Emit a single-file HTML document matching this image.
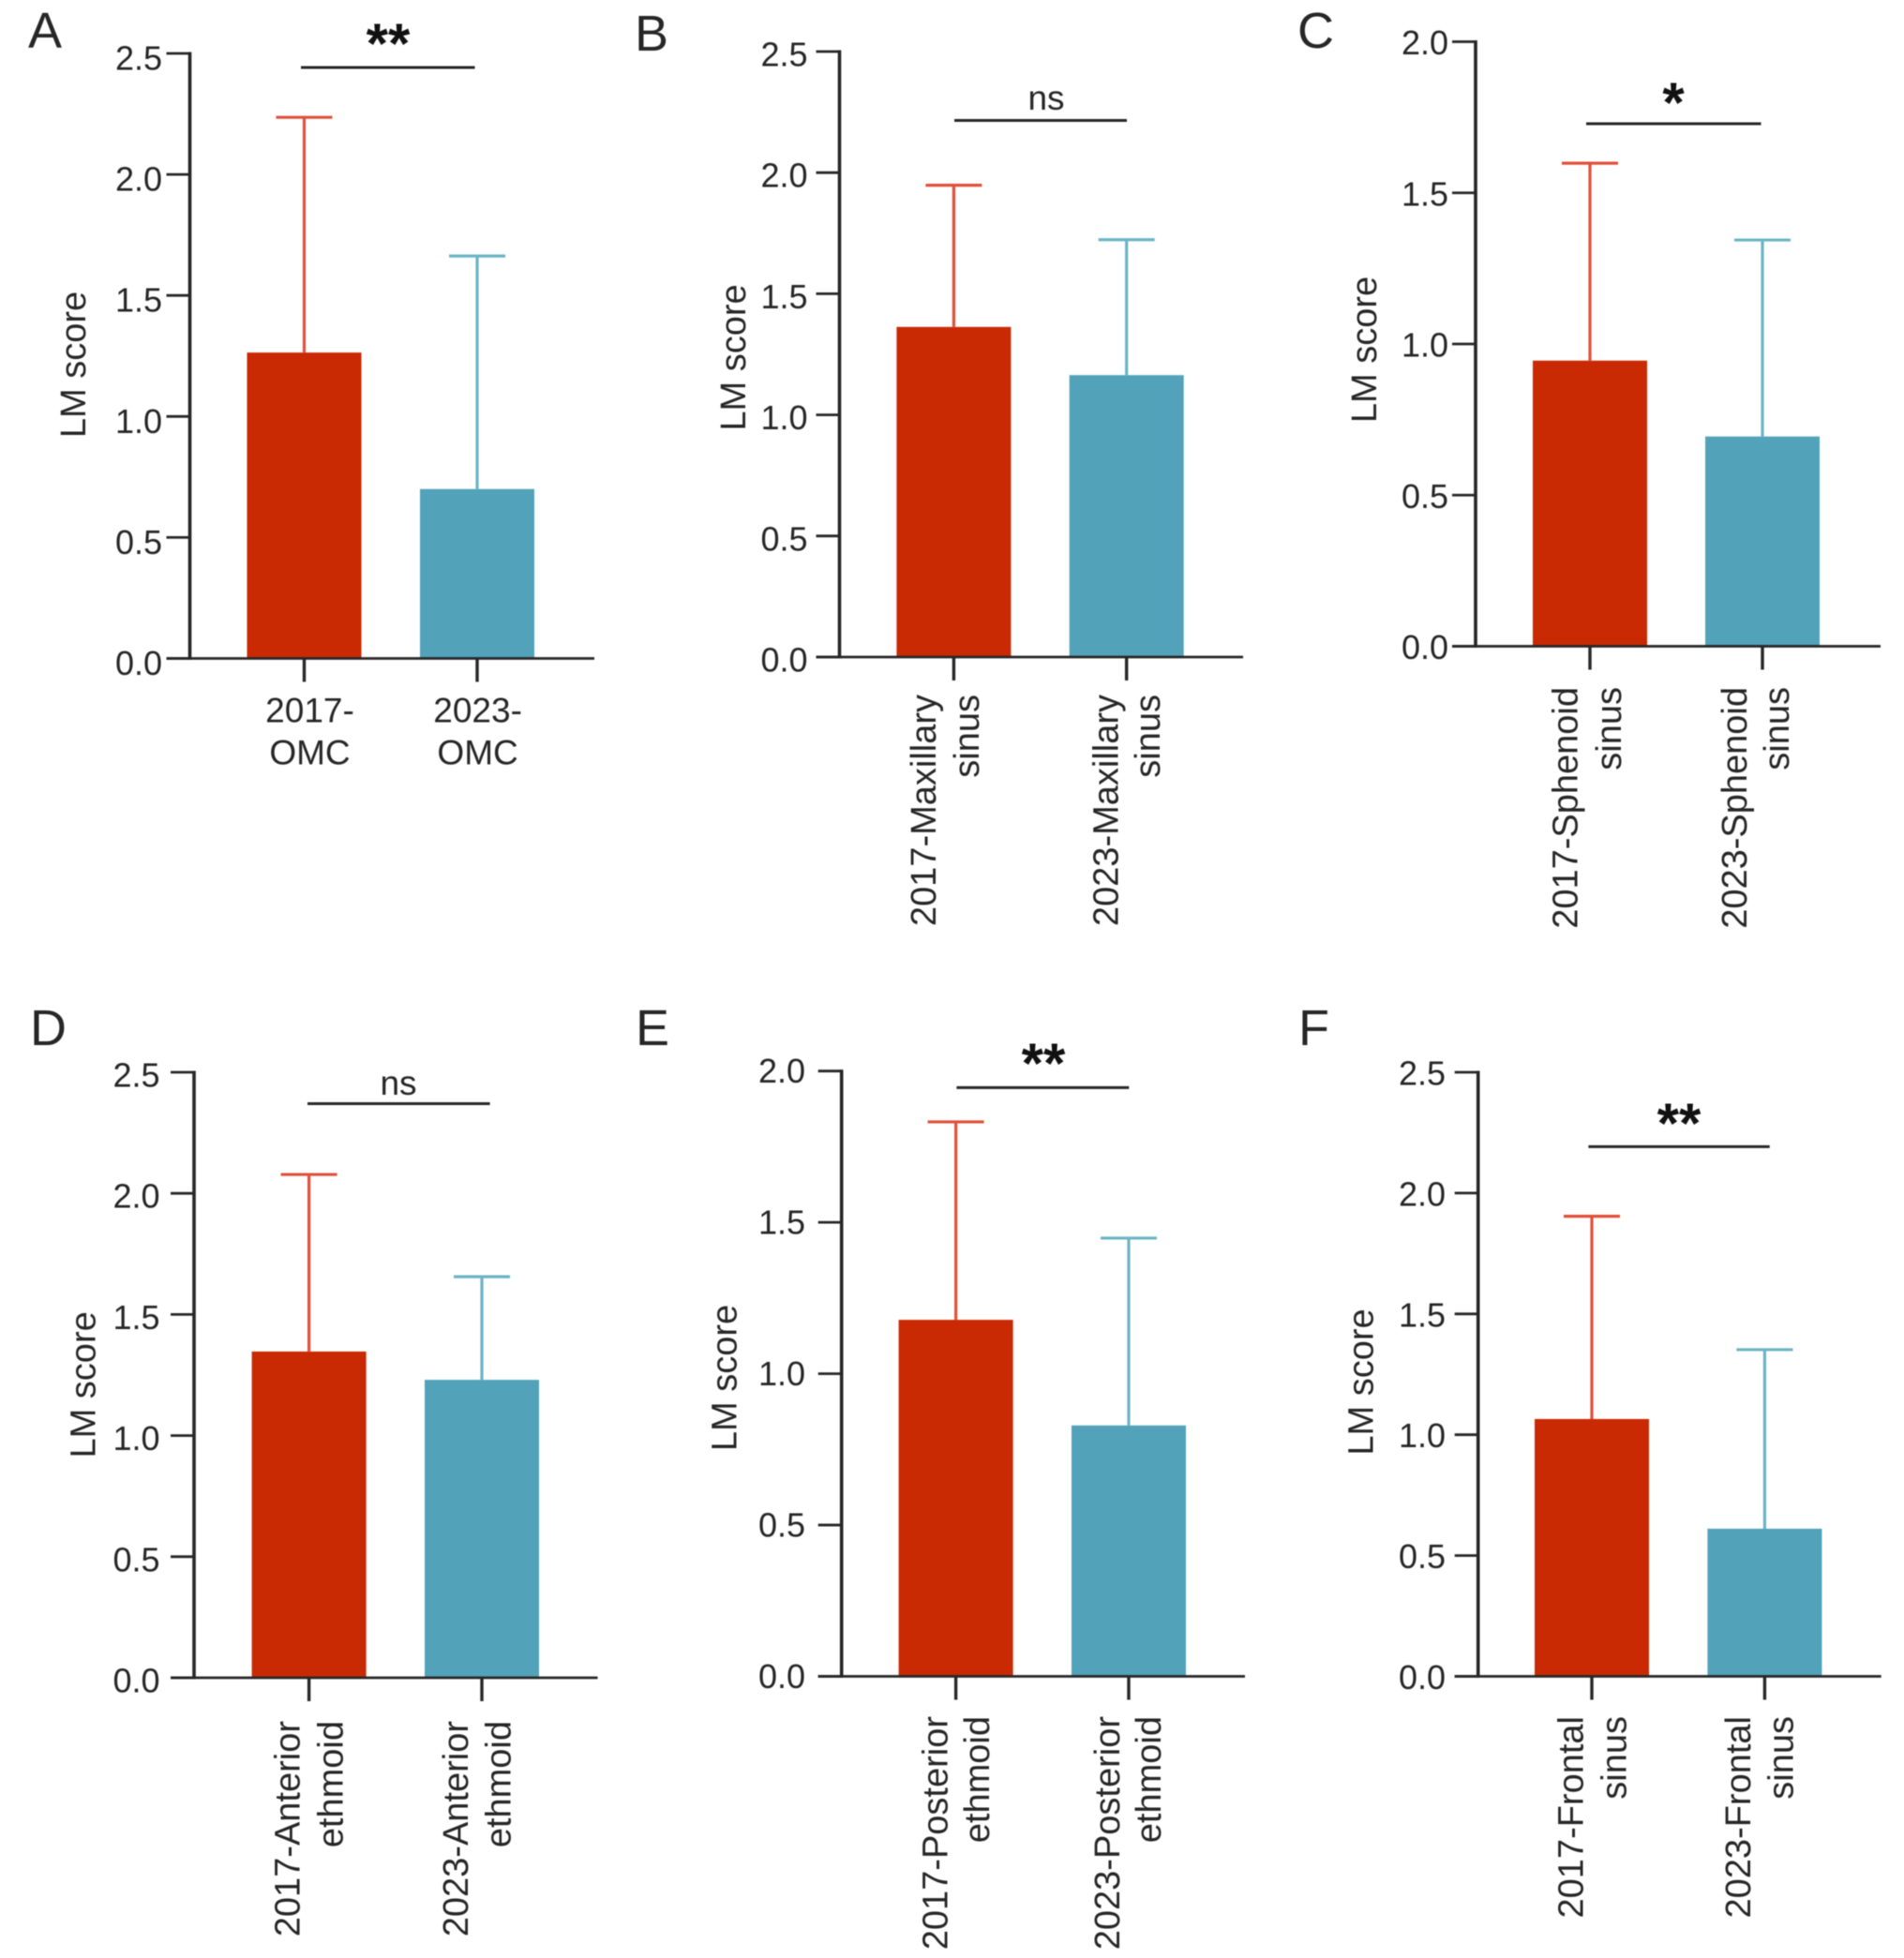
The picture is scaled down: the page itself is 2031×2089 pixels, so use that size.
<!DOCTYPE html>
<html lang="en">
<head>
<meta charset="utf-8">
<title>LM score bar charts</title>
<style>
html,body{margin:0;padding:0;background:#fff;}
svg{display:block;filter:blur(0.6px);}
text{font-family:"Liberation Sans",Arial,sans-serif;fill:#262626;}
</style>
</head>
<body>
<svg id="chart" xmlns="http://www.w3.org/2000/svg" width="2031" height="2089" viewBox="0 0 2031 2089"></svg>
<script>
// ---- Data ----
const ticks25 = [0, 0.5, 1, 1.5, 2, 2.5];
const ticks20 = [0, 0.5, 1, 1.5, 2];
const tickLabels25 = ['0.0', '0.5', '1.0', '1.5', '2.0', '2.5'];
const tickLabels20 = ['0.0', '0.5', '1.0', '1.5', '2.0'];
const axisTitle = 'LM score';

const categoriesA = [['2017-', 'OMC'], ['2023-', 'OMC']];
const meansA = [1.264, 0.70];
const upperA = [2.236, 1.663];
const sigA = '**';

const categoriesB = [['2017-Maxillary', 'sinus'], ['2023-Maxillary', 'sinus']];
const meansB = [1.363, 1.164];
const upperB = [1.948, 1.723];
const sigB = 'ns';

const categoriesC = [['2017-Sphenoid', 'sinus'], ['2023-Sphenoid', 'sinus']];
const meansC = [0.945, 0.694];
const upperC = [1.598, 1.344];
const sigC = '*';

const categoriesD = [['2017-Anterior', 'ethmoid'], ['2023-Anterior', 'ethmoid']];
const meansD = [1.347, 1.23];
const upperD = [2.078, 1.656];
const sigD = 'ns';

const categoriesE = [['2017-Posterior', 'ethmoid'], ['2023-Posterior', 'ethmoid']];
const meansE = [1.178, 0.829];
const upperE = [1.832, 1.448];
const sigE = '**';

const categoriesF = [['2017-Frontal', 'sinus'], ['2023-Frontal', 'sinus']];
const meansF = [1.065, 0.611];
const upperF = [1.904, 1.352];
const sigF = '**';

// ---- Layout (pixel geometry of each panel, separate from data) ----
const BAR_W = 122, CAP_W = 60, TICK_LEN = 25;
const FILL = ['#c92a03', '#52a2ba'];
const ERR = ['#e0503a', '#6cb4c4'];
const INK = '#262626';

const panels = [
  {id:'A', letterX:30, letterY:51, ticks:ticks25, labels:tickLabels25, cats:categoriesA, means:meansA, upper:upperA, sig:sigA,
   axisX:202.5, yTop:57, yBase:702.5, xEnd:634, c0:324.5, c1:509, labelEnd:173, labelOff:5, titleX:91, titleY:389,
   sigX0:321, sigX1:506.5, sigY:72, sigTextX:414, sigTextCenter:31, horizontal:true},
  {id:'B', letterX:677, letterY:54, ticks:ticks25, labels:tickLabels25, cats:categoriesB, means:meansB, upper:upperB, sig:sigB,
   axisX:895.5, yTop:55, yBase:701, xEnd:1326, c0:1017.4, c1:1201.7, labelEnd:861.5, labelOff:3, titleX:795, titleY:381.5,
   sigX0:1018, sigX1:1202, sigY:128.5, sigTextX:1116, sigTextBase:117, textTop:741, lineOff:[[-19.5,26.5],[-9,35.5]]},
  {id:'C', letterX:1384, letterY:51, ticks:ticks20, labels:tickLabels20, cats:categoriesC, means:meansC, upper:upperC, sig:sigC,
   axisX:1574, yTop:44.5, yBase:689.5, xEnd:2006, c0:1696, c1:1880, labelEnd:1545, labelOff:1, titleX:1468, titleY:373,
   sigX0:1692, sigX1:1878.5, sigY:132, sigTextX:1785, sigTextCenter:94, textTop:733, lineOff:[[-13.5,33],[-17,28]]},
  {id:'D', letterX:32, letterY:1115, ticks:ticks25, labels:tickLabels25, cats:categoriesD, means:meansD, upper:upperD, sig:sigD,
   axisX:207, yTop:1144, yBase:1790, xEnd:637.5, c0:329.6, c1:514, labelEnd:170.5, labelOff:3, titleX:101.5, titleY:1477.4,
   sigX0:328, sigX1:522.6, sigY:1177.5, sigTextX:425, sigTextBase:1168, textTop:1836, lineOff:[[-10,36],[-15,30.6]]},
  {id:'E', letterX:678, letterY:1115, ticks:ticks20, labels:tickLabels20, cats:categoriesE, means:meansE, upper:upperE, sig:sigE,
   axisX:897.7, yTop:1142.7, yBase:1788.5, xEnd:1328, c0:1019.6, c1:1204, labelEnd:859, labelOff:0, titleX:785.5, titleY:1470,
   sigX0:1020.4, sigX1:1204.3, sigY:1160.4, sigTextX:1113, sigTextCenter:1119, textTop:1831, lineOff:[[-9,35.4],[-10,34]]},
  {id:'F', letterX:1385, letterY:1115, ticks:ticks25, labels:tickLabels25, cats:categoriesF, means:meansF, upper:upperF, sig:sigF,
   axisX:1576.7, yTop:1144, yBase:1788.5, xEnd:2006.7, c0:1698, c1:1882.4, labelEnd:1542, labelOff:1, titleX:1464.5, titleY:1474.5,
   sigX0:1694.4, sigX1:1887.7, sigY:1223.4, sigTextX:1791, sigTextCenter:1183, textTop:1831, lineOff:[[-9.5,36.7],[-15.5,30.3]]}
];

// ---- Drawing ----
const SVGNS = 'http://www.w3.org/2000/svg';
const root = document.getElementById('chart');

function add(parent, tag, attrs, name, text) {
  const el = document.createElementNS(SVGNS, tag);
  for (const k in attrs) el.setAttribute(k, attrs[k]);
  
  
  if (text !== undefined) el.textContent = text;
  parent.appendChild(el);
  return el;
}
function line(parent, x1, y1, x2, y2, stroke, width, name) {
  return add(parent, 'line', {x1, y1, x2, y2, stroke, 'stroke-width': width}, name);
}

panels.forEach(function (p) {
  const key = p.id.toLowerCase();
  const g = add(root, 'g', {}, 'panel-' + key);
  const yMax = p.ticks[p.ticks.length - 1];
  const yScale = v => p.yBase - (v / yMax) * (p.yBase - p.yTop);
  const xScale = i => p.c0 + i * (p.c1 - p.c0);

  add(g, 'text', {x: p.letterX, y: p.letterY, 'font-size': 54}, 'panel-letter-' + key, p.id);

  // bars + error bars
  p.means.forEach(function (m, i) {
    const cx = xScale(i), top = yScale(m), up = yScale(p.upper[i]);
    const year = i === 0 ? '2017' : '2023';
    add(g, 'rect', {x: cx - BAR_W / 2, y: top, width: BAR_W, height: p.yBase - top, fill: FILL[i]}, 'bar-' + key + '-' + year);
    line(g, cx, top, cx, up, ERR[i], 3.2, 'error-stem-' + key + '-' + year);
    line(g, cx - CAP_W / 2, up, cx + CAP_W / 2, up, ERR[i], 3.2, 'error-cap-' + key + '-' + year);
  });

  // y axis
  line(g, p.axisX, p.yTop - 1.5, p.axisX, p.yBase + 1.5, INK, 3.6, 'y-axis-' + key);
  p.ticks.forEach(function (t, i) {
    const y = yScale(t);
    line(g, p.axisX - TICK_LEN, y, p.axisX, y, INK, 2.8, 'y-tick-' + key + '-' + i);
    add(g, 'text', {x: p.labelEnd, y: y + p.labelOff + 12.5, 'text-anchor': 'end', 'font-size': 36}, 'y-tick-label-' + key + '-' + i, p.labels[i]);
  });
  add(g, 'text', {x: 0, y: 0, 'text-anchor': 'middle', 'font-size': 38,
    transform: 'translate(' + p.titleX + ' ' + p.titleY + ') rotate(-90)'}, 'y-axis-title-' + key, axisTitle);

  // x axis
  line(g, p.axisX - TICK_LEN, p.yBase, p.xEnd, p.yBase, INK, 2.8, 'x-axis-' + key);
  p.cats.forEach(function (lines, i) {
    const cx = xScale(i);
    line(g, cx, p.yBase, cx, p.yBase + TICK_LEN, INK, 3.4, 'x-tick-' + key + '-' + i);
    if (p.horizontal) {
      add(g, 'text', {x: cx + (i === 0 ? 6 : 0.6), y: p.yBase + 68, 'text-anchor': 'middle', 'font-size': 37}, 'x-label-' + key + '-' + i + '-line-1', lines[0]);
      add(g, 'text', {x: cx + (i === 0 ? 6 : 0.6), y: p.yBase + 113, 'text-anchor': 'middle', 'font-size': 37}, 'x-label-' + key + '-' + i + '-line-2', lines[1]);
    } else {
      lines.forEach(function (txt, j) {
        add(g, 'text', {x: 0, y: 0, 'text-anchor': 'end', 'font-size': 38,
          transform: 'translate(' + (cx + p.lineOff[i][j]) + ' ' + p.textTop + ') rotate(-90)'},
          'x-label-' + key + '-' + i + '-line-' + (j + 1), txt);
      });
    }
  });

  // significance annotation
  line(g, p.sigX0, p.sigY, p.sigX1, p.sigY, INK, 3, 'significance-bar-' + key);
  if (p.sig === 'ns') {
    add(g, 'text', {x: p.sigTextX, y: p.sigTextBase, 'text-anchor': 'middle', 'font-size': 37}, 'significance-label-' + key, p.sig);
  } else {
    add(g, 'text', {x: p.sigTextX, y: p.sigTextCenter + 36, 'text-anchor': 'middle', 'font-size': 60, 'font-weight': 'bold', style: 'fill:#111'}, 'significance-label-' + key, p.sig);
  }
});
</script>
</body>
</html>
